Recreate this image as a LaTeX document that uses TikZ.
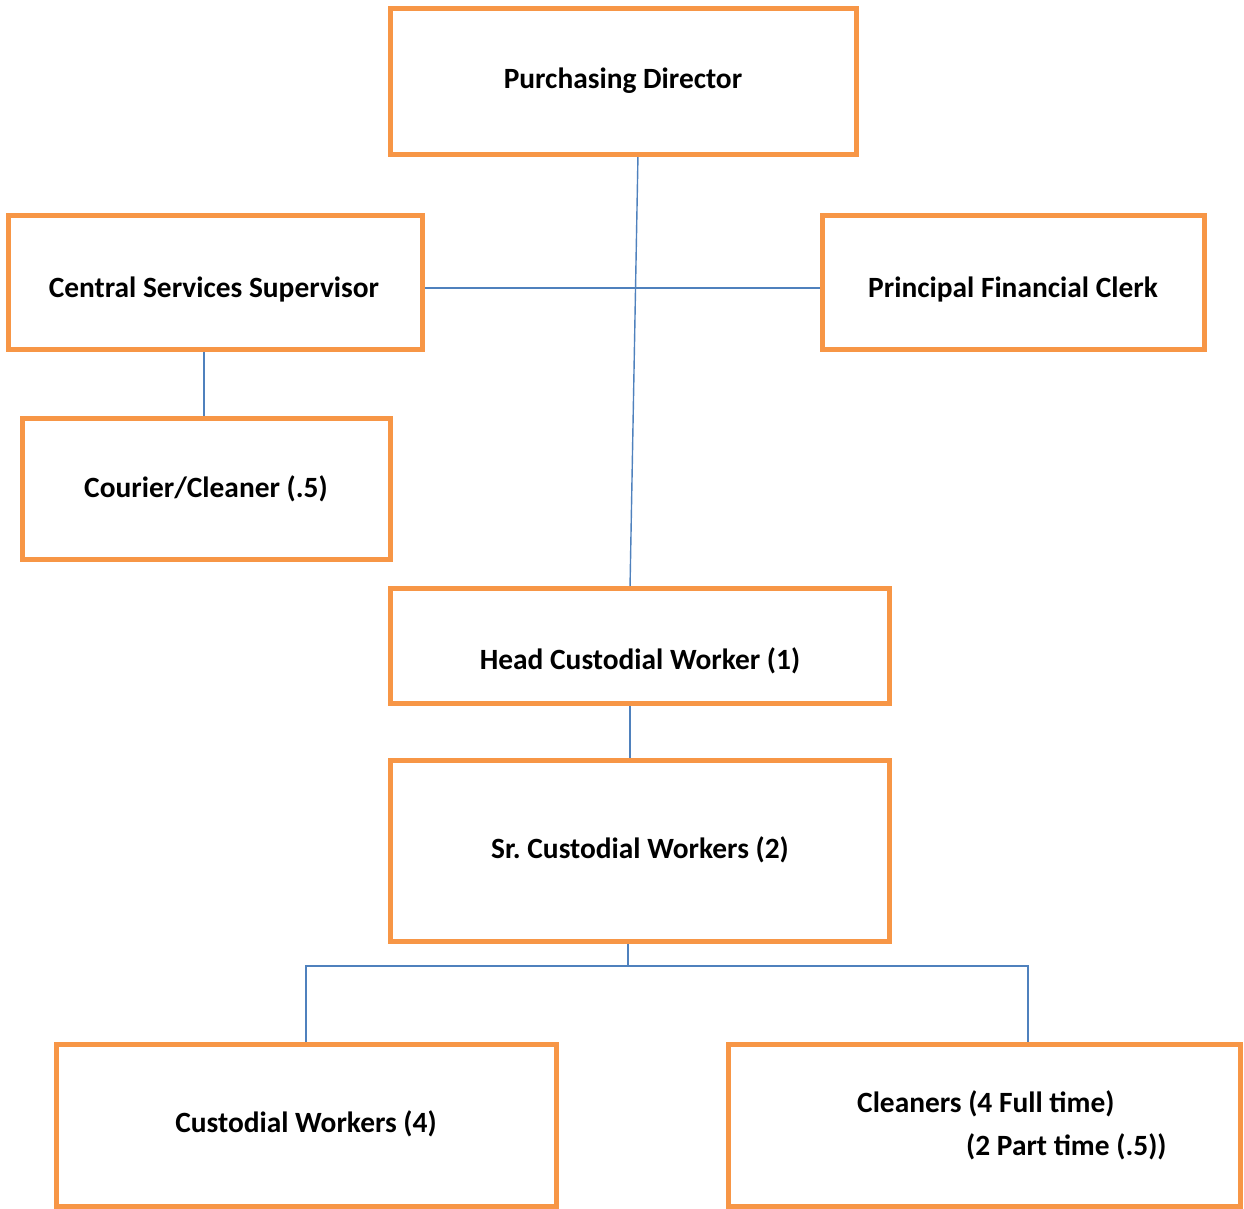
\documentclass[tikz,border=0pt]{standalone}
\usepackage{fontspec}
\setmainfont{Carlito}
\usetikzlibrary{backgrounds}
\definecolor{boxorange}{HTML}{F79646}
\definecolor{linkblue}{HTML}{4F81BD}
\begin{document}
\begin{tikzpicture}[x=1pt,y=-1pt,
  box/.style={draw=boxorange, line width=5pt, rectangle, inner sep=0pt, outer sep=0pt, fill=white},
  lbl/.style={font=\fontsize{29.4}{35}\selectfont\bfseries, anchor=base, inner sep=0pt},
  link/.style={draw=linkblue, line width=1.4pt}]
\useasboundingbox (0,0) rectangle (1244,1208);
% boxes
\node[box, minimum width=466pt, minimum height=146pt] (pd) at (623,81) {};
\node[box, minimum width=414pt, minimum height=134pt] (css) at (215,282) {};
\node[box, minimum width=382pt, minimum height=134pt] (pfc) at (1013,282) {};
\node[box, minimum width=368pt, minimum height=141pt] (courier) at (206,488.5) {};
\node[box, minimum width=499pt, minimum height=115pt] (head) at (639.5,645.5) {};
\node[box, minimum width=499pt, minimum height=181pt] (sr) at (639.5,850.5) {};
\node[box, minimum width=500pt, minimum height=162pt] (cw) at (306,1125) {};
\node[box, minimum width=512pt, minimum height=162pt] (cl) at (984,1125) {};
% labels
\node[lbl] (pdt) at (623,88.5) {Purchasing Director};
\node[lbl] (csst) at (214,297.5) {Central Services Supervisor};
\node[lbl] (pfct) at (1013,297.5) {Principal Financial Clerk};
\node[lbl] (couriert) at (206,497.5) {Courier/Cleaner (.5)};
\node[lbl] (headt) at (640,669.5) {Head Custodial Worker (1)};
\node[lbl] (srt) at (640,858.5) {Sr.\ Custodial Workers (2)};
\node[lbl] (cwt) at (306,1132.5) {Custodial Workers (4)};
\node[lbl, anchor=base west] (clt1) at (857,1112.5) {Cleaners (4 Full time)};
\node[lbl, anchor=base west] (clt2) at (966,1155.5) {(2 Part time (.5))};
% connectors
\begin{scope}[on background layer]
\draw[link] ([xshift=15pt]pd.south) -- ([xshift=-9.5pt]head.north);
\draw[link] ([yshift=-6pt]css.east) -- ([yshift=-6pt]pfc.west);
\draw[link] ([xshift=-2pt]courier.north) -- ([xshift=-2pt]courier.north |- css.south);
\draw[link] ([xshift=-9.5pt]head.south) -- ([xshift=-9.5pt]sr.north);
\coordinate (split) at (628,966);
\draw[link] ([xshift=-11.5pt]sr.south) -- (split);
\draw[link] (cw.north) |- (split) -| ([xshift=44pt]cl.north);
\end{scope}
\end{tikzpicture}
\end{document}
